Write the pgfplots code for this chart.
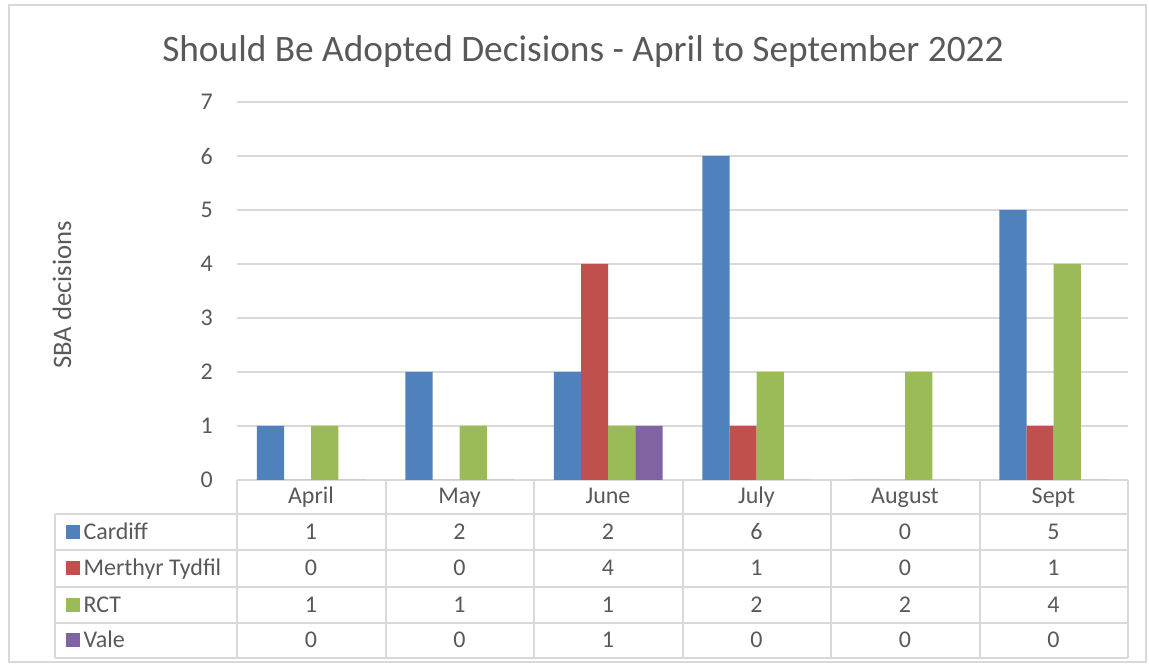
\documentclass[border=0pt]{standalone}
\usepackage{pgfplots}
\pgfplotsset{compat=1.18}
\usepackage{fontspec}
\setmainfont{Carlito}
\definecolor{cardiff}{HTML}{4F81BD}
\definecolor{merthyr}{HTML}{C0504D}
\definecolor{rct}{HTML}{9BBB59}
\definecolor{vale}{HTML}{8064A2}
\definecolor{txt}{HTML}{595959}
\definecolor{gridc}{HTML}{D9D9D9}
\begin{document}
\begin{tikzpicture}
\begin{scope}[x=0.375pt,y=-0.375pt]
\path (0,0) rectangle (1149,665);
\draw[gridc, line width=0.75pt] (9.5,5) rectangle (1145.5,662);
\draw[gridc, line width=0.75pt] (237,480) -- (1128,480);
\foreach \yy in {514,550,587,623,658} \draw[gridc,line width=0.75pt] (55,\yy) -- (1128,\yy);
\draw[gridc,line width=0.75pt] (55,514) -- (55,658);
\foreach \xx in {237,385.5,534,682.5,831,979.5,1128} \draw[gridc,line width=0.75pt] (\xx,480) -- (\xx,658);
\node[txt, font=\fontsize{14}{16}\selectfont, anchor=base] at (583,62) {Should Be Adopted Decisions - April to September 2022};
\node[rotate=90, txt, font=\fontsize{10}{12}\selectfont] at (62,295) {SBA decisions};
\begin{scope}[font=\fontsize{9}{11}\selectfont, txt, every node/.style={anchor=base, inner sep=0pt}]
\foreach \m [count=\i from 0] in {April,May,June,July,August,Sept} \node at ({311+148.5*\i},504) {\m};
\foreach \v [count=\i from 0] in {1,2,2,6,0,5} \node at ({311+148.5*\i},539.5) {\v};
\foreach \v [count=\i from 0] in {0,0,4,1,0,1} \node at ({311+148.5*\i},576) {\v};
\foreach \v [count=\i from 0] in {1,1,1,2,2,4} \node at ({311+148.5*\i},612.5) {\v};
\foreach \v [count=\i from 0] in {0,0,1,0,0,0} \node at ({311+148.5*\i},648) {\v};
\foreach \c/\n/\yy in {cardiff/Cardiff/532,merthyr/Merthyr Tydfil/568.5,rct/RCT/605,vale/Vale/640.5} {
  \fill[\c] (66,\yy-7) rectangle (80,\yy+7);
  \node[anchor=base west] at (83,\yy+7.5) {\n};
}
\end{scope}
\end{scope}
\begin{axis}[
  at={(88.875pt,-180pt)}, anchor=south west, scale only axis,
  width=334.125pt, height=141.75pt,
  xmin=-0.5, xmax=5.5, ymin=0, ymax=7,
  ybar=0pt, bar width=10.2pt,
  xtick={0,...,5}, xticklabels={},
  ytick={0,...,7},
  ymajorgrids, grid style={gridc, line width=0.75pt},
  axis line style={draw=none}, tick style={draw=none},
  /pgf/number format/assume math mode=true,
  yticklabel style={font=\fontsize{9}{11}\selectfont, txt, xshift=-5.5pt},
]
\addplot[fill=cardiff, draw=none] coordinates {(0,1) (1,2) (2,2) (3,6) (4,0) (5,5)};
\addplot[fill=merthyr, draw=none] coordinates {(0,0) (1,0) (2,4) (3,1) (4,0) (5,1)};
\addplot[fill=rct, draw=none] coordinates {(0,1) (1,1) (2,1) (3,2) (4,2) (5,4)};
\addplot[fill=vale, draw=none] coordinates {(0,0) (1,0) (2,1) (3,0) (4,0) (5,0)};
\end{axis}
\end{tikzpicture}
\end{document}
